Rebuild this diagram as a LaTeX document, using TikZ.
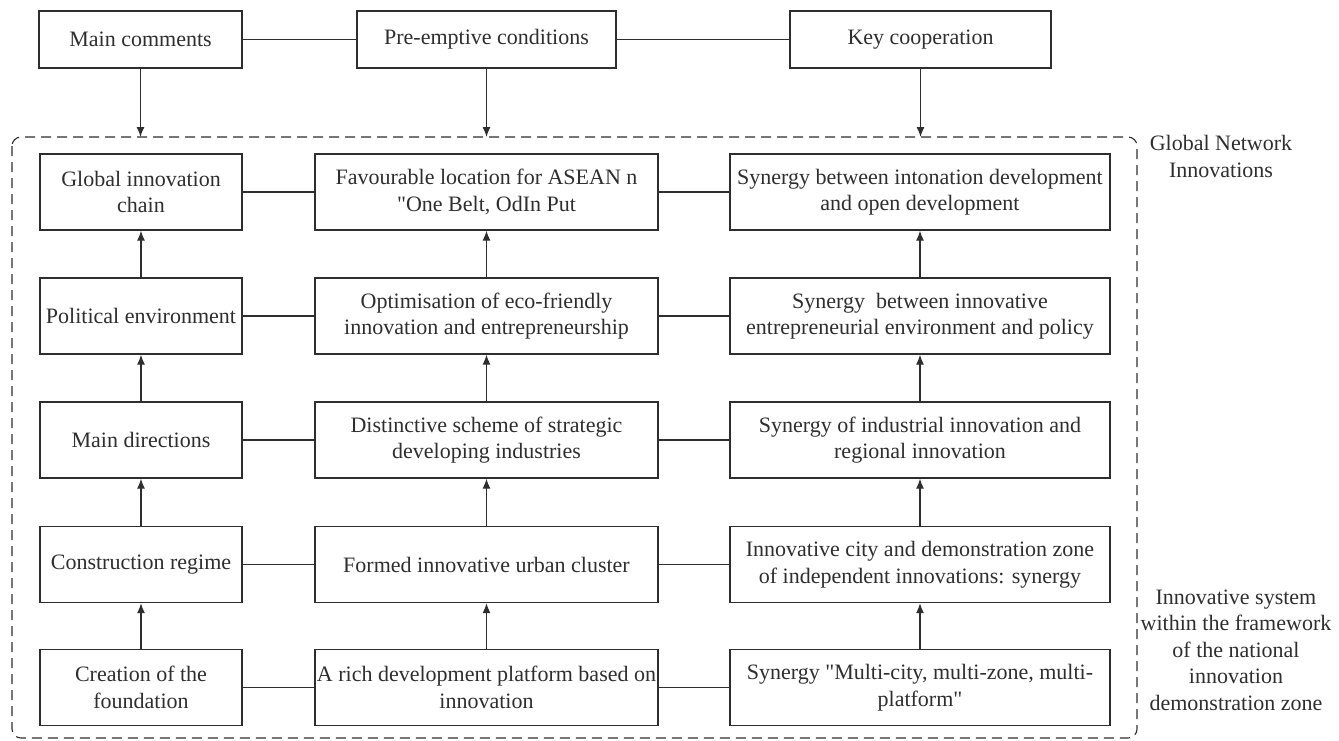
\documentclass[tikz,border=0pt]{standalone}
\usepackage{fontspec}
\setmainfont{Liberation Serif}[Ligatures=TeXOff]
\usetikzlibrary{arrows.meta}
\definecolor{ink}{HTML}{2e2e2e}
\begin{document}
\begin{tikzpicture}[x=1pt,y=-1pt,
  every node/.style={font=\fontsize{22}{26.5}\selectfont, text=ink},
  box/.style={draw=ink, line width=1.3pt, align=center, inner sep=0pt, minimum height=76pt},
  topbox/.style={box, minimum height=57pt},
  lcol/.style={box, minimum width=202pt},
  mcol/.style={box, minimum width=343pt},
  rcol/.style={box, minimum width=380pt},
  link/.style={draw=ink, line width=1.3pt},
  arr/.style={link, -{Latex[length=10pt,width=8pt]}},
  note/.style={align=center}
]
\useasboundingbox (0,0) rectangle (1339,740);

% header row
\node[topbox, minimum width=203pt] (mc) at (140.5,39.5) {Main comments};
\node[topbox, minimum width=259pt] (pc) at (486.5,39.5) {Pre-emptive conditions};
\node[topbox, minimum width=261pt] (kc) at (920.5,39.5) {Key cooperation};
\draw[link] (mc) -- (pc);
\draw[link] (pc) -- (kc);

% dashed frame around the innovation system
\draw[draw=ink, line width=1.1pt, dash pattern=on 10pt off 6pt, rounded corners=9pt] (12,137) rectangle (1137,738);
\coordinate (ftop) at (0,137);

% row 1
\node[lcol] (a1) at (141,192) {Global innovation\\chain};
\node[mcol] (b1) at (486.5,192) {Favourable location for ASEAN n\\"One Belt, OdIn Put};
\node[rcol] (c1) at (920,192) {Synergy between intonation development\\and open development};
% row 2
\node[lcol] (a2) at (141,316) {Political environment};
\node[mcol] (b2) at (486.5,316) {Optimisation of eco-friendly\\innovation and entrepreneurship};
\node[rcol] (c2) at (920,316) {Synergy\ \ between innovative\\entrepreneurial environment and policy};
% row 3
\node[lcol] (a3) at (141,440) {Main directions};
\node[mcol] (b3) at (486.5,440) {Distinctive scheme of strategic\\developing industries};
\node[rcol] (c3) at (920,440) {Synergy of industrial innovation and\\regional innovation};
% row 4
\node[lcol] (a4) at (141,564.5) {Construction regime};
\node[mcol] (b4) at (486.5,564.5) {Formed innovative urban cluster};
\node[rcol] (c4) at (920,564.5) {Innovative city and demonstration zone\\of independent innovations: synergy};
% row 5
\node[lcol] (a5) at (141,687.5) {Creation of the\\foundation};
\node[mcol] (b5) at (486.5,687.5) {A rich development platform based on\\innovation};
\node[rcol] (c5) at (920,687.5) {Synergy "Multi-city, multi-zone, multi-\\platform"};

% side labels
\node[note] (gni) at (1221,156.5) {Global Network\\Innovations};
\node[note] (ins) at (1236,650) {Innovative system\\within the framework\\of the national\\innovation\\demonstration zone};

% header arrows into the frame
\draw[arr] (mc.south) -- (mc.south |- ftop);
\draw[arr] (pc.south) -- (pc.south |- ftop);
\draw[arr] (kc.south) -- (kc.south |- ftop);

% horizontal links in each row
\foreach \r in {1,...,5} {
  \draw[link] (a\r) -- (b\r);
  \draw[link] (b\r) -- (c\r);
}

% upward arrows in each column
\foreach \c in {a,b,c} {
  \draw[arr] (\c5) -- (\c4);
  \draw[arr] (\c4) -- (\c3);
  \draw[arr] (\c3) -- (\c2);
  \draw[arr] (\c2) -- (\c1);
}
\end{tikzpicture}
\end{document}
